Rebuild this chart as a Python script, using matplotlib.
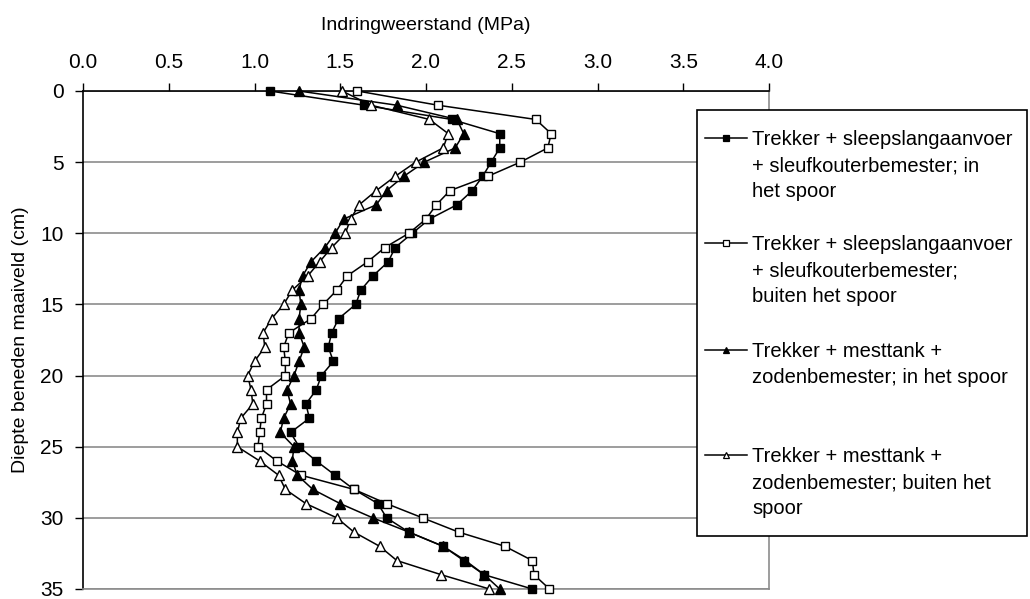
import matplotlib
matplotlib.use("Agg")
import matplotlib.pyplot as plt
from matplotlib.lines import Line2D
from matplotlib.patches import Rectangle

# Depth below surface (cm), one reading per centimetre
depth = list(range(0, 36))

# Penetration resistance (MPa) per treatment
sleep_in = [1.09, 1.64, 2.15, 2.43, 2.43, 2.38, 2.33, 2.27, 2.18, 2.02,
            1.92, 1.82, 1.78, 1.69, 1.62, 1.59, 1.49, 1.45, 1.43, 1.46,
            1.39, 1.36, 1.30, 1.32, 1.21, 1.26, 1.36, 1.47, 1.58, 1.72,
            1.77, 1.90, 2.10, 2.22, 2.34, 2.62]
sleep_out = [1.60, 2.07, 2.64, 2.73, 2.71, 2.55, 2.36, 2.14, 2.06, 2.00,
             1.90, 1.76, 1.66, 1.54, 1.48, 1.40, 1.33, 1.20, 1.17, 1.18,
             1.18, 1.07, 1.07, 1.04, 1.03, 1.02, 1.13, 1.27, 1.58, 1.77,
             1.98, 2.19, 2.46, 2.62, 2.63, 2.72]
tank_in = [1.26, 1.83, 2.18, 2.22, 2.17, 1.99, 1.87, 1.77, 1.71, 1.52,
           1.47, 1.41, 1.33, 1.28, 1.26, 1.27, 1.26, 1.26, 1.29, 1.26,
           1.23, 1.19, 1.21, 1.17, 1.15, 1.23, 1.22, 1.25, 1.34, 1.50,
           1.69, 1.90, 2.10, 2.23, 2.34, 2.43]
tank_out = [1.51, 1.68, 2.02, 2.13, 2.10, 1.94, 1.82, 1.71, 1.61, 1.56,
            1.53, 1.45, 1.38, 1.31, 1.22, 1.17, 1.10, 1.05, 1.06, 1.00,
            0.96, 0.98, 0.99, 0.92, 0.90, 0.90, 1.03, 1.14, 1.18, 1.30,
            1.48, 1.58, 1.73, 1.83, 2.09, 2.37]

labels = [
    "Trekker + sleepslangaanvoer\n+ sleufkouterbemester; in\nhet spoor",
    "Trekker + sleepslangaanvoer\n+ sleufkouterbemester;\nbuiten het spoor",
    "Trekker + mesttank +\nzodenbemester; in het spoor",
    "Trekker + mesttank +\nzodenbemester; buiten het\nspoor",
]
x_ticks = [0.0, 0.5, 1.0, 1.5, 2.0, 2.5, 3.0, 3.5, 4.0]
y_ticks = [0, 5, 10, 15, 20, 25, 30, 35]

plt.rcParams["font.family"] = ["Liberation Sans", "DejaVu Sans"]
FS_TICK = 15
FS_TITLE = 14
FS_LEG = 14.5

W, H = 1030, 599
fig = plt.figure(figsize=(W / 100, H / 100), dpi=100)
ax = fig.add_axes([83 / W, 1 - 589 / H, (769 - 83) / W, (589 - 91) / H])

styles = [
    dict(marker="s", mfc="black"),
    dict(marker="s", mfc="white"),
    dict(marker="^", mfc="black"),
    dict(marker="^", mfc="white"),
]
series = [sleep_in, sleep_out, tank_in, tank_out]
for vals, st in zip(series, styles):
    ax.plot(vals, depth, color="black", lw=1.1, marker=st["marker"],
            mfc=st["mfc"], mec="black", mew=1.0,
            ms=6.3 if st["marker"] == "s" else 7.5, clip_on=False, zorder=3)

ax.set_xlim(0, 4)
ax.set_ylim(35, 0)
ax.xaxis.tick_top()
ax.xaxis.set_label_position("top")
ax.set_xticks(x_ticks)
ax.set_xticklabels([f"{v:.1f}" for v in x_ticks])
ax.set_yticks(y_ticks)
ax.tick_params(direction="out", length=6, width=1, labelsize=FS_TICK,
               colors="black")
ax.tick_params(axis="x", pad=8)
ax.tick_params(axis="y", pad=8)
ax.set_xlabel("Indringweerstand (MPa)", fontsize=FS_TITLE, labelpad=16)
ax.set_ylabel("Diepte beneden maaiveld (cm)", fontsize=FS_TITLE, labelpad=8)

ax.yaxis.grid(True, color="#8c8c8c", lw=1.2)
ax.set_axisbelow(True)
for side in ("top", "left"):
    ax.spines[side].set_color("black")
    ax.spines[side].set_linewidth(1.2)
for side in ("right", "bottom"):
    ax.spines[side].set_color("#8c8c8c")
    ax.spines[side].set_linewidth(1.2)

# Legend box drawn by hand so each symbol sits on the first text line
lx0, lx1, ly0, ly1 = 697, 1027, 110, 536
fig.patches.append(Rectangle((lx0 / W, 1 - ly1 / H), (lx1 - lx0) / W,
                             (ly1 - ly0) / H, transform=fig.transFigure,
                             facecolor="white", edgecolor="black", lw=1.2,
                             zorder=10))
entry_y = [138, 243, 350, 455]
for lab, st, ey in zip(labels, styles, entry_y):
    yf = 1 - ey / H
    fig.lines.append(Line2D([705 / W, 747 / W], [yf, yf],
                            transform=fig.transFigure, color="black", lw=1.1,
                            zorder=11))
    fig.lines.append(Line2D([726 / W], [yf], transform=fig.transFigure,
                            marker=st["marker"], mfc=st["mfc"], mec="black",
                            mew=0.9, ms=4.5, zorder=12))
    fig.text(752 / W, 1 - (ey - 8) / H, lab, fontsize=FS_LEG, va="top",
             ha="left", linespacing=1.48, zorder=12,
             transform=fig.transFigure)

fig.savefig("out.png", dpi=100)
